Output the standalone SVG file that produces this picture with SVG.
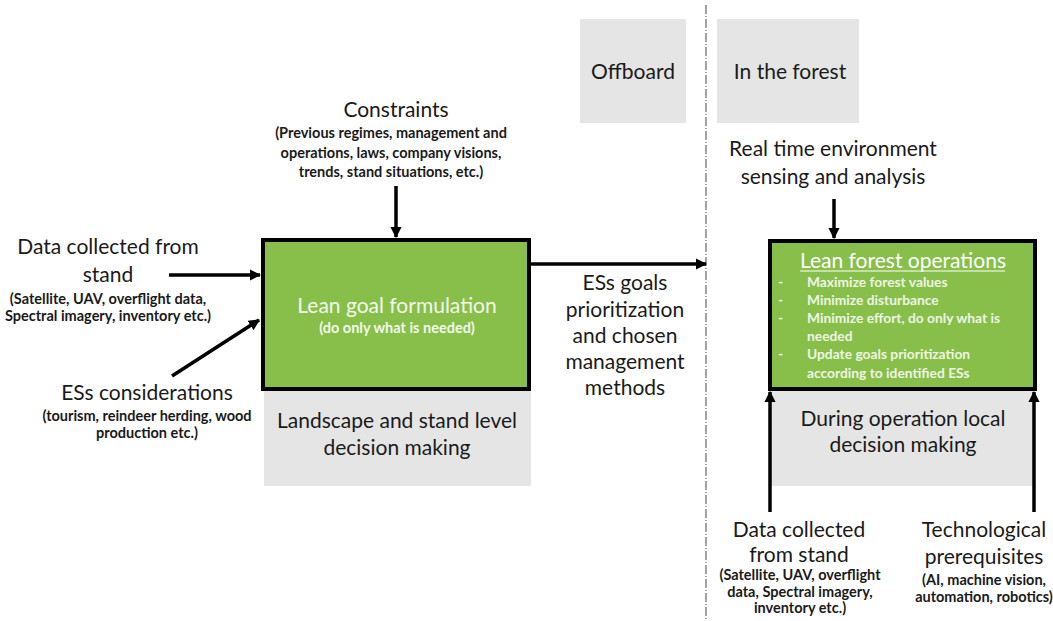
<svg xmlns="http://www.w3.org/2000/svg" width="1053" height="621" viewBox="0 0 1053 621">
<style>
text{font-family:Lato,"Open Sans","Liberation Sans",sans-serif;fill:#1a1a1a;text-anchor:middle}
.big{font-size:21px}
.sm{font-size:14.5px;font-weight:bold}
.gray{fill:#e5e5e5}
.green{fill:#88bf4b;stroke:#000;stroke-width:4}
.wt{fill:#f2f8ea}
.bl{font-size:13.8px;font-weight:bold;fill:#eef5e4;text-anchor:start}
.conn{stroke:#000;stroke-width:3.5;fill:none}
</style>
<defs>
<marker id="ah" viewBox="0 0 10 10" refX="9" refY="5" markerWidth="3.2" markerHeight="3.2" orient="auto" markerUnits="strokeWidth">
<path d="M0,0 L10,5 L0,10 z" fill="#000"/>
</marker>
</defs>
<rect width="1053" height="621" fill="#fff"/>
<line x1="706" y1="5" x2="706" y2="621" stroke="#666" stroke-width="1.2" stroke-dasharray="9 2 1 2"/>
<g id="offboard">
<rect class="gray" x="580" y="19" width="106" height="104"/>
<text class="big" x="633" y="79">Offboard</text>
</g>
<g id="in-the-forest">
<rect class="gray" x="717" y="19" width="142" height="104"/>
<text class="big" x="790" y="79">In the forest</text>
</g>
<g id="constraints">
<text class="big" x="396" y="117">Constraints</text>
<text class="sm" x="391" y="138">(Previous regimes, management and</text>
<text class="sm" x="391" y="158">operations, laws, company visions,</text>
<text class="sm" x="391" y="177">trends, stand situations, etc.)</text>
</g>
<g id="data-left">
<text class="big" x="108" y="254">Data collected from</text>
<text class="big" x="108" y="282">stand</text>
<text class="sm" x="108" y="304">(Satellite, UAV, overflight data,</text>
<text class="sm" x="108" y="321">Spectral imagery, inventory etc.)</text>
</g>
<g id="ess-considerations">
<text class="big" x="147" y="400">ESs considerations</text>
<text class="sm" x="147" y="421">(tourism, reindeer herding, wood</text>
<text class="sm" x="147" y="438">production etc.)</text>
</g>
<g id="landscape">
<rect class="gray" x="264" y="391" width="267" height="95"/>
<text class="big" x="397" y="428">Landscape and stand level</text>
<text class="big" x="397" y="455">decision making</text>
</g>
<g id="lean-goal">
<rect class="green" x="263" y="240" width="266" height="149"/>
<text class="big wt" x="397" y="313">Lean goal formulation</text>
<text class="sm wt" x="397" y="333">(do only what is needed)</text>
</g>
<g id="ess-goals">
<text class="big" x="625" y="290">ESs goals</text>
<text class="big" x="625" y="317">prioritization</text>
<text class="big" x="625" y="343">and chosen</text>
<text class="big" x="625" y="369">management</text>
<text class="big" x="625" y="395">methods</text>
</g>
<g id="real-time">
<text class="big" x="833" y="156">Real time environment</text>
<text class="big" x="833" y="184">sensing and analysis</text>
</g>
<g id="during-operation">
<rect class="gray" x="770" y="391" width="263" height="95"/>
<text class="big" x="903" y="426">During operation local</text>
<text class="big" x="903" y="452">decision making</text>
</g>
<g id="lean-forest">
<rect class="green" x="770" y="241" width="265" height="148"/>
<text class="big" x="903" y="268" style="fill:#fff">Lean forest operations</text>
<line x1="800" y1="271" x2="1005" y2="271" stroke="#fff" stroke-width="1.2"/>
<text class="bl" x="778" y="287">-</text>
<text class="bl" x="807" y="287">Maximize forest values</text>
<text class="bl" x="778" y="305">-</text>
<text class="bl" x="807" y="305">Minimize disturbance</text>
<text class="bl" x="778" y="323">-</text>
<text class="bl" x="807" y="323">Minimize effort, do only what is</text>
<text class="bl" x="807" y="341">needed</text>
<text class="bl" x="778" y="359">-</text>
<text class="bl" x="807" y="359">Update goals prioritization</text>
<text class="bl" x="807" y="378">according to identified ESs</text>
</g>
<g id="data-right">
<text class="big" x="799" y="537">Data collected</text>
<text class="big" x="799" y="562">from stand</text>
<text class="sm" x="800" y="580">(Satellite, UAV, overflight</text>
<text class="sm" x="800" y="597">data, Spectral imagery,</text>
<text class="sm" x="800" y="613">inventory etc.)</text>
</g>
<g id="tech">
<text class="big" x="984" y="537">Technological</text>
<text class="big" x="984" y="564">prerequisites</text>
<text class="sm" x="984" y="585">(AI, machine vision,</text>
<text class="sm" x="984" y="602">automation, robotics)</text>
</g>
<g id="connectors">
<line class="conn" x1="396" y1="186" x2="396" y2="237" marker-end="url(#ah)"/>
<line class="conn" x1="169" y1="275" x2="260" y2="275" marker-end="url(#ah)"/>
<line class="conn" x1="172" y1="376" x2="259" y2="320" marker-end="url(#ah)"/>
<line class="conn" x1="531" y1="264" x2="706" y2="264" marker-end="url(#ah)"/>
<line class="conn" x1="834" y1="199" x2="834" y2="238" marker-end="url(#ah)"/>
<line class="conn" x1="770" y1="512" x2="770" y2="392" marker-end="url(#ah)"/>
<line class="conn" x1="1034" y1="512" x2="1034" y2="392" marker-end="url(#ah)"/>
</g>
</svg>
